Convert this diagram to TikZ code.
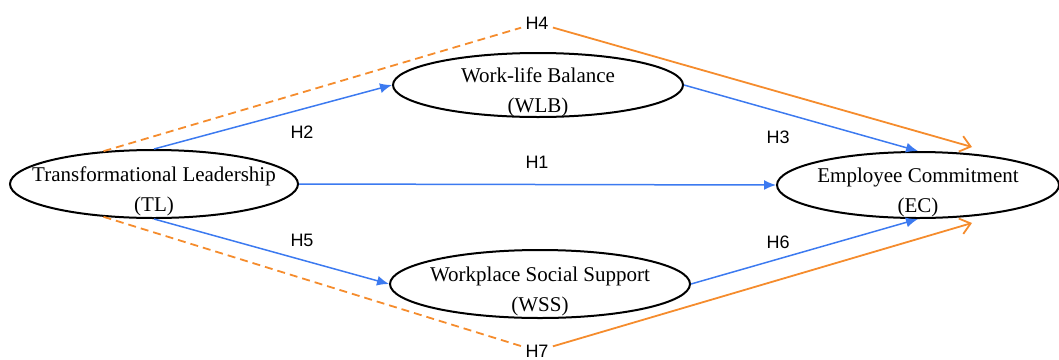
\documentclass[tikz,border=0pt]{standalone}
\usepackage{fontspec}
\setmainfont{Liberation Serif}
\setsansfont{Liberation Sans}
\usetikzlibrary{shapes.geometric,arrows.meta}
\definecolor{pathblue}{RGB}{60,122,240}
\definecolor{pathorange}{RGB}{245,140,45}
\tikzstyle{var}=[ellipse,draw=black,line width=1pt,inner sep=0pt]
\tikzstyle{vartext}=[font=\fontsize{10.5}{15}\selectfont,align=center,yshift=-3.5pt]
\tikzstyle{hyp}=[font=\sffamily\fontsize{9}{10}\selectfont,inner sep=2pt]
\tikzstyle{direct}=[pathblue,line width=0.75pt,-{Latex[length=6pt,width=5pt]}]
\tikzstyle{indirect}=[pathorange,line width=0.9pt]

\begin{document}
\begin{tikzpicture}[x=0.5pt,y=-0.5pt]
\useasboundingbox (0,0) rectangle (1059,359);
% constructs
\node[var,minimum width=144pt,minimum height=34pt,label={[vartext]center:Transformational Leadership\\(TL)}] (TL) at (154,184) {};
\node[var,minimum width=145pt,minimum height=32pt,label={[vartext]center:Work-life Balance\\(WLB)}] (WLB) at (538,85) {};
\node[var,minimum width=150pt,minimum height=34pt,label={[vartext]center:Workplace Social Support\\(WSS)}] (WSS) at (540,284) {};
\node[var,minimum width=141pt,minimum height=33pt,label={[vartext]center:Employee Commitment\\(EC)}] (EC) at (918,185) {};
% hypothesis labels
\node[hyp] (h1) at (537,162) {H1};
\node[hyp] (h2) at (302,132) {H2};
\node[hyp] (h3) at (778,137) {H3};
\node[hyp] (h4) at (537,23) {H4};
\node[hyp] (h5) at (302,240) {H5};
\node[hyp] (h6) at (778,242) {H6};
\node[hyp] (h7) at (537,351) {H7};
\coordinate (h4end) at (972,147);
\coordinate (h7end) at (972,223);
% direct paths
\draw[direct] (TL.east)--(EC.west);
\draw[direct] (TL.north)--(WLB.west);
\draw[direct] (WLB.east)--(EC.north);
\draw[direct] (TL.south)--(WSS.west);
\draw[direct] (WSS.east)--(EC.south);
% mediated paths
\draw[indirect,dash pattern=on 4pt off 2.5pt] (TL.147)--(h4);
\draw[indirect,-{Straight Barb[length=5pt,width=8pt]}] (h4)--(h4end);
\draw[indirect,dash pattern=on 4pt off 2.5pt] (TL.213)--(h7);
\draw[indirect,-{Straight Barb[length=5pt,width=8pt]}] (h7)--(h7end);
\end{tikzpicture}
\end{document}
